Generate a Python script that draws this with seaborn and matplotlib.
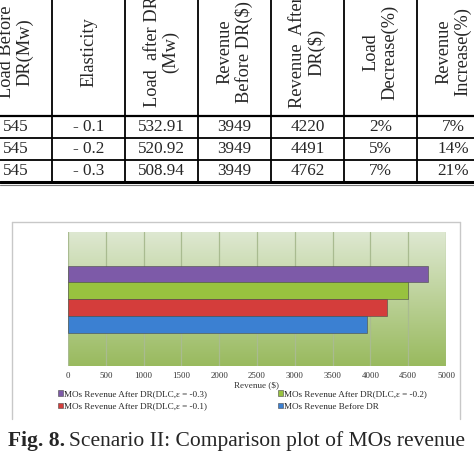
import numpy as np
import pandas as pd
import matplotlib
matplotlib.use('Agg')
import matplotlib.pyplot as plt
from matplotlib.lines import Line2D
import seaborn as sns

# --- data ---
table_headers = ['Load Before\nDR(Mw)', 'Elasticity', 'Load  after DR\n(Mw)',
                 'Revenue\nBefore DR($)', 'Revenue  After\nDR($)',
                 'Load\nDecrease(%)', 'Revenue\nIncrease(%)']
load_before = ['545', '545', '545']
elasticity = ['- 0.1', '- 0.2', '- 0.3']
load_after = ['532.91', '520.92', '508.94']
rev_before = ['3949', '3949', '3949']
rev_after = ['4220', '4491', '4762']
load_decrease = ['2%', '5%', '7%']
rev_increase = ['7%', '14%', '21%']

series = ['MOs Revenue After DR(DLC,ε = -0.3)',
          'MOs Revenue After DR(DLC,ε = -0.2)',
          'MOs Revenue After DR(DLC,ε = -0.1)',
          'MOs Revenue Before DR']
revenue = [4762, 4491, 4220, 3949]
bar_colors = ['#7d5aa8', '#98c23f', '#d43d3b', '#3b80d2']
x_ticks = [0, 500, 1000, 1500, 2000, 2500, 3000, 3500, 4000, 4500, 5000]

sns.set_style('white')
plt.rcParams['font.family'] = ['Liberation Serif', 'DejaVu Serif']

W, H = 474, 457
fig = plt.figure(figsize=(W / 100, H / 100), dpi=100)

# --- table (drawn in pixel coordinates) ---
tab = fig.add_axes([0, 1 - 190 / H, 1, 190 / H])
tab.set_xlim(0, W)
tab.set_ylim(190, 0)
tab.axis('off')

col_edges = [-20, 52, 125, 198, 271, 344, 417, 490]
row_edges = [116, 138, 160, 182]
columns = [load_before, elasticity, load_after, rev_before, rev_after,
           load_decrease, rev_increase]

for x in col_edges[1:-1]:
    tab.plot([x, x], [-5, 182], color='black', lw=1.3)
tab.plot([0, W], [116, 116], color='black', lw=1.6)
tab.plot([0, W], [138, 138], color='black', lw=1.3)
tab.plot([0, W], [160, 160], color='black', lw=1.3)
tab.plot([0, W], [182, 182], color='black', lw=2.2)
tab.plot([0, W], [185, 185], color='#777777', lw=0.8)

for i, head in enumerate(table_headers):
    cx = (col_edges[i] + col_edges[i + 1]) / 2
    tab.text(cx, 52, head, rotation=90, ha='center', va='center',
             fontsize=13.2, linespacing=1.1, multialignment='center')
    for r, val in enumerate(columns[i]):
        cy = (row_edges[r] + row_edges[r + 1]) / 2
        tab.text(cx, cy, val, ha='center', va='center', fontsize=12.3)

# --- chart frame ---
frame_kw = dict(color='#c8c8c8', lw=1.0, transform=fig.transFigure)
fig.add_artist(Line2D([11.5 / W, 11.5 / W], [1 - 222 / H, 1 - 419 / H], **frame_kw))
fig.add_artist(Line2D([460 / W, 460 / W], [1 - 222 / H, 1 - 419 / H], **frame_kw))
fig.add_artist(Line2D([11.5 / W, 460 / W], [1 - 222 / H, 1 - 222 / H], **frame_kw))

# --- bar chart ---
ax = fig.add_axes([68 / W, 1 - 366 / H, 378 / W, 134 / H])

grad = np.linspace(0, 1, 200)[:, None]
top_c = np.array([0.87, 0.91, 0.82])
bot_c = np.array([0.60, 0.73, 0.37])
img = top_c[None, None, :] * (1 - grad[:, :, None]) + bot_c[None, None, :] * grad[:, :, None]
ax.imshow(img, extent=[0, 1, 0, 1], transform=ax.transAxes, aspect='auto',
          zorder=0, origin='upper')

df = pd.DataFrame({'group': ['rev'] * len(series), 'series': series, 'revenue': revenue})
sns.barplot(data=df, x='revenue', y='group', hue='series', hue_order=series,
            palette=bar_colors, orient='h', width=0.8, ax=ax, zorder=3,
            edgecolor='#4a4a4a', linewidth=0.4, saturation=1)

ax.set_xlim(0, 5000)
ax.set_ylim(0.8, -0.8)
ax.set_xticks(x_ticks)
ax.set_xticklabels([str(t) for t in x_ticks])
ax.set_yticks([])
ax.set_ylabel('')
for t in x_ticks:
    ax.axvline(t, color='#a9bb90', lw=0.9, zorder=1)
for s in ax.spines.values():
    s.set_visible(False)
ax.tick_params(axis='x', length=0, pad=4, labelsize=6.4, labelcolor='#333333')
ax.set_xlabel('Revenue ($)', fontsize=6.6, color='#333333', labelpad=1.5)

handles, labels = ax.get_legend_handles_labels()
if ax.get_legend() is not None:
    ax.get_legend().remove()
order = [0, 2, 1, 3]
fig.legend([handles[i] for i in order], [labels[i] for i in order],
           ncol=2, loc='upper left', bbox_to_anchor=(58 / W, 1 - 390 / H),
           frameon=False, fontsize=6.6, handlelength=0.55, handleheight=0.55,
           handletextpad=0.1, columnspacing=7.7, labelspacing=0.5,
           borderaxespad=0, borderpad=0)

# --- caption ---
cap_y = 1 - 441 / H
t1 = fig.text(8 / W, cap_y, 'Fig. 8.', fontsize=15.5, fontweight='bold', va='center')
fig.canvas.draw()
bb = t1.get_window_extent()
fig.text(bb.x1 / W + 4 / W, cap_y, 'Scenario II: Comparison plot of MOs revenue',
         fontsize=15.5, va='center')

fig.savefig('out.png', dpi=100)
